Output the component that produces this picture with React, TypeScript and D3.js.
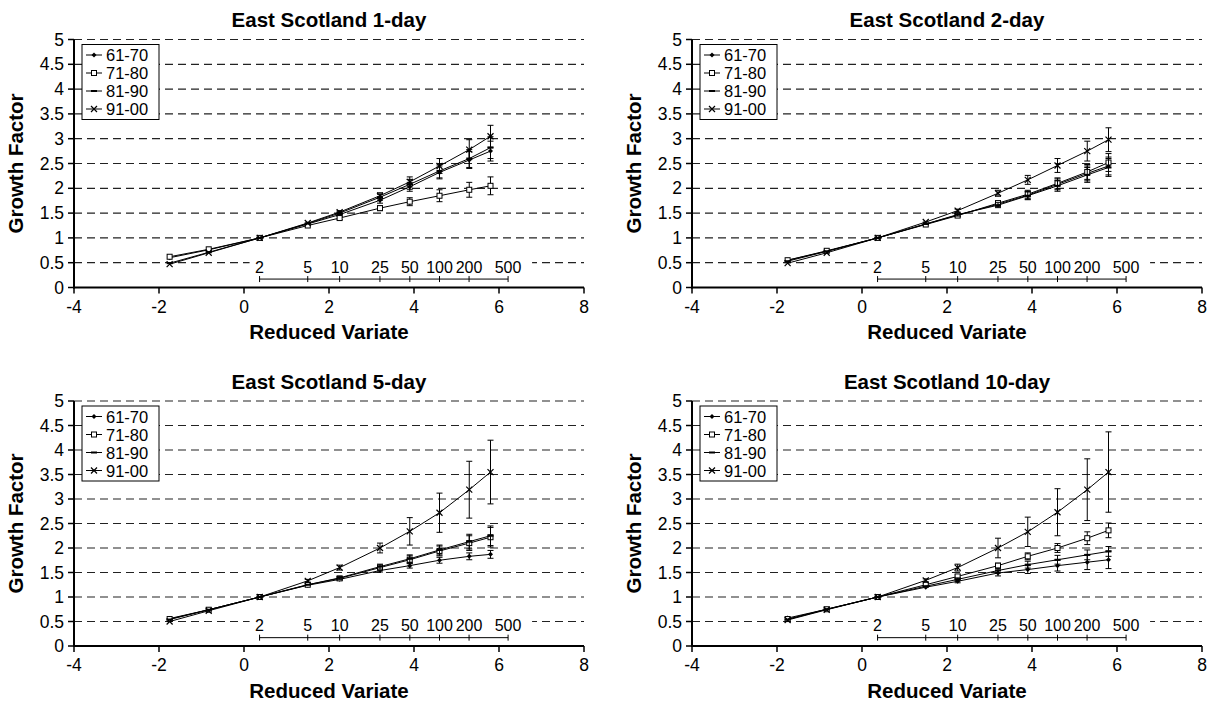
import React from 'react';
import * as d3 from 'd3';

// ---- data ----
const seriesNames = ['61-70', '71-80', '81-90', '91-00'];
const reducedVariate = [-1.75, -0.83, 0.37, 1.5, 2.25, 3.2, 3.9, 4.6, 5.3, 5.8];
const returnPeriods = [2, 5, 10, 25, 50, 100, 200, 500];
const xTickValues = [-4, -2, 0, 2, 4, 6, 8];
const yTickValues = [0, 0.5, 1, 1.5, 2, 2.5, 3, 3.5, 4, 4.5, 5];
const panelTitles = ['East Scotland 1-day', 'East Scotland 2-day', 'East Scotland 5-day', 'East Scotland 10-day'];

// growth factors, one row per decade (61-70, 71-80, 81-90, 91-00)
const oneDayValues = [
  [0.6, 0.76, 1.0, 1.28, 1.47, 1.76, 2.03, 2.32, 2.57, 2.75],
  [0.62, 0.77, 1.0, 1.25, 1.4, 1.6, 1.73, 1.85, 1.97, 2.05],
  [0.49, 0.71, 1.0, 1.29, 1.5, 1.82, 2.08, 2.35, 2.6, 2.82],
  [0.47, 0.7, 1.0, 1.3, 1.52, 1.85, 2.13, 2.45, 2.78, 3.05],
];
const oneDayErrors = [
  [0, 0, 0, 0.01, 0.03, 0.06, 0.09, 0.13, 0.17, 0.2],
  [0, 0, 0, 0.01, 0.03, 0.05, 0.08, 0.12, 0.15, 0.18],
  [0, 0, 0, 0.01, 0.03, 0.06, 0.1, 0.14, 0.18, 0.22],
  [0, 0, 0, 0.01, 0.03, 0.06, 0.1, 0.15, 0.2, 0.22],
];

const twoDayValues = [
  [0.55, 0.73, 1.0, 1.28, 1.46, 1.68, 1.86, 2.08, 2.3, 2.45],
  [0.55, 0.74, 1.0, 1.27, 1.45, 1.7, 1.88, 2.1, 2.33, 2.52],
  [0.53, 0.73, 1.0, 1.28, 1.47, 1.66, 1.85, 2.05, 2.27, 2.42],
  [0.49, 0.7, 1.0, 1.32, 1.55, 1.9, 2.17, 2.46, 2.75, 2.98],
];
const twoDayErrors = [
  [0, 0, 0, 0.01, 0.03, 0.05, 0.08, 0.11, 0.15, 0.18],
  [0, 0, 0, 0.01, 0.03, 0.05, 0.08, 0.11, 0.15, 0.18],
  [0, 0, 0, 0.01, 0.03, 0.05, 0.08, 0.11, 0.15, 0.18],
  [0, 0, 0, 0.01, 0.03, 0.06, 0.09, 0.14, 0.2, 0.24],
];

const fiveDayValues = [
  [0.56, 0.74, 1.0, 1.24, 1.36, 1.54, 1.64, 1.75, 1.83, 1.87],
  [0.55, 0.74, 1.0, 1.25, 1.38, 1.6, 1.76, 1.94, 2.1, 2.22],
  [0.54, 0.74, 1.0, 1.25, 1.39, 1.62, 1.78, 1.96, 2.13, 2.25],
  [0.5, 0.72, 1.0, 1.33, 1.6, 2.0, 2.34, 2.72, 3.19, 3.55],
];
const fiveDayErrors = [
  [0, 0, 0, 0.01, 0.02, 0.03, 0.05, 0.06, 0.07, 0.08],
  [0, 0, 0, 0.01, 0.03, 0.05, 0.08, 0.1, 0.15, 0.2],
  [0, 0, 0, 0.01, 0.03, 0.05, 0.08, 0.1, 0.15, 0.2],
  [0, 0, 0, 0.03, 0.05, 0.1, 0.28, 0.4, 0.58, 0.65],
];

const tenDayValues = [
  [0.57, 0.75, 1.0, 1.2, 1.32, 1.49, 1.56, 1.64, 1.71, 1.76],
  [0.55, 0.75, 1.0, 1.25, 1.42, 1.64, 1.83, 2.0, 2.2, 2.36],
  [0.54, 0.75, 1.0, 1.22, 1.36, 1.54, 1.66, 1.76, 1.86, 1.93],
  [0.53, 0.74, 1.0, 1.34, 1.6, 2.0, 2.33, 2.73, 3.19, 3.55],
];
const tenDayErrors = [
  [0, 0, 0, 0.01, 0.03, 0.06, 0.08, 0.11, 0.15, 0.18],
  [0, 0, 0, 0.01, 0.03, 0.05, 0.07, 0.09, 0.13, 0.15],
  [0, 0, 0, 0.01, 0.03, 0.05, 0.07, 0.09, 0.1, 0.1],
  [0, 0, 0, 0.03, 0.07, 0.2, 0.3, 0.48, 0.63, 0.82],
];

const FONT = "'Liberation Sans', Arial, Helvetica, sans-serif";
const PLOT_W = 510;

// gumbel reduced variate for a return period (position of the T axis)
const gumbel = (T: number) => -Math.log(-Math.log(1 - 1 / T));

function Marker({ kind, cx, cy }: { kind: number; cx: number; cy: number }) {
  if (kind === 0) {
    return <path d={`M${cx},${cy - 2.5}L${cx + 2.5},${cy}L${cx},${cy + 2.5}L${cx - 2.5},${cy}Z`} fill="#000" />;
  }
  if (kind === 1) {
    return <rect x={cx - 2.5} y={cy - 2.5} width={5} height={5} fill="#fff" stroke="#000" strokeWidth={1} />;
  }
  if (kind === 2) {
    return <line x1={cx - 3} x2={cx + 3} y1={cy} y2={cy} stroke="#000" strokeWidth={2} />;
  }
  return (
    <path d={`M${cx - 3},${cy - 3}L${cx + 3},${cy + 3}M${cx - 3},${cy + 3}L${cx + 3},${cy - 3}`} stroke="#000" strokeWidth={1.2} />
  );
}

type PanelProps = {
  title: string;
  values: number[][];
  errors: number[][];
  left: number;
  top: number;
  bottom: number;
};

function Panel({ title, values, errors, left, top, bottom }: PanelProps) {
  const x = d3.scaleLinear().domain([-4, 8]).range([left, left + PLOT_W]);
  const y = d3.scaleLinear().domain([0, 5]).range([bottom, top]);
  const line = d3
    .line<number>()
    .x((_, i) => x(reducedVariate[i]))
    .y((d) => y(d));

  const tLeft = x(gumbel(returnPeriods[0]));
  const tRight = x(gumbel(returnPeriods[returnPeriods.length - 1]));

  return (
    <g fontFamily={FONT}>
      <text x={x(2)} y={top - 20} textAnchor="middle" dominantBaseline="central" fontWeight="bold" fontSize={20.5}>
        {title}
      </text>

      {/* dashed grid */}
      {yTickValues.filter((v) => v > 0).map((v) => (
        <line key={v} x1={x(-4)} x2={x(8)} y1={y(v)} y2={y(v)} stroke="#222" strokeWidth={1.2} strokeDasharray="8,5" />
      ))}

      {/* return period box + axis */}
      <rect x={tLeft - 10} y={y(0.63)} width={tRight - tLeft + 34} height={y(0.3) - y(0.63)} fill="#fff" />
      {returnPeriods.map((T) => (
        <text key={T} x={x(gumbel(T))} y={y(0.3)} textAnchor="middle" fontSize={16}>
          {T}
        </text>
      ))}
      <line x1={tLeft} x2={tRight} y1={y(0.17)} y2={y(0.17)} stroke="#000" strokeWidth={1} />
      {returnPeriods.map((T) => (
        <line key={T} x1={x(gumbel(T))} x2={x(gumbel(T))} y1={y(0.17) - 3} y2={y(0.17) + 3} stroke="#000" strokeWidth={1} />
      ))}

      {/* series */}
      {values.map((vals, s) => (
        <g key={s}>
          <path d={line(vals) || ''} fill="none" stroke="#000" strokeWidth={1} />
          {vals.map((v, i) =>
            errors[s][i] > 0.015 ? (
              <g key={i} stroke="#000" strokeWidth={1}>
                <line x1={x(reducedVariate[i])} x2={x(reducedVariate[i])} y1={y(v - errors[s][i])} y2={y(v + errors[s][i])} />
                <line x1={x(reducedVariate[i]) - 3} x2={x(reducedVariate[i]) + 3} y1={y(v - errors[s][i])} y2={y(v - errors[s][i])} />
                <line x1={x(reducedVariate[i]) - 3} x2={x(reducedVariate[i]) + 3} y1={y(v + errors[s][i])} y2={y(v + errors[s][i])} />
              </g>
            ) : null
          )}
          {vals.map((v, i) => (
            <Marker key={i} kind={s} cx={x(reducedVariate[i])} cy={y(v)} />
          ))}
        </g>
      ))}

      {/* axes */}
      <line x1={x(-4)} x2={x(-4)} y1={y(0) + 1} y2={y(5)} stroke="#000" strokeWidth={2} />
      <line x1={x(-4) - 1} x2={x(8)} y1={y(0)} y2={y(0)} stroke="#000" strokeWidth={2} />
      {yTickValues.map((v) => (
        <g key={v}>
          <line x1={x(-4) - 6} x2={x(-4)} y1={y(v)} y2={y(v)} stroke="#000" strokeWidth={1.5} />
          <text x={x(-4) - 10} y={y(v)} textAnchor="end" dominantBaseline="central" fontSize={17.5}>
            {String(v)}
          </text>
        </g>
      ))}
      {xTickValues.map((v) => (
        <g key={v}>
          <line x1={x(v)} x2={x(v)} y1={y(0)} y2={y(0) + 6} stroke="#000" strokeWidth={1.5} />
          <text x={x(v)} y={y(0) + 19} textAnchor="middle" dominantBaseline="central" fontSize={17.5}>
            {String(v)}
          </text>
        </g>
      ))}
      <text x={x(2)} y={y(0) + 44} textAnchor="middle" dominantBaseline="central" fontWeight="bold" fontSize={20.5}>
        Reduced Variate
      </text>
      <text
        transform={`translate(${left - 59},${(top + bottom) / 2}) rotate(-90)`}
        textAnchor="middle"
        dominantBaseline="central"
        fontWeight="bold"
        fontSize={20.5}
      >
        Growth Factor
      </text>

      {/* legend */}
      <g transform={`translate(${left + 8},${top + 5})`}>
        <rect x={0} y={0} width={77} height={75} fill="#fff" stroke="#000" strokeWidth={1} />
        {seriesNames.map((name, i) => (
          <g key={name} transform={`translate(0,${10.5 + i * 18})`}>
            <line x1={4} x2={20} y1={0} y2={0} stroke="#000" strokeWidth={1} />
            <Marker kind={i} cx={12} cy={0} />
            <text x={24} y={0} dominantBaseline="central" fontSize={16.5}>
              {name}
            </text>
          </g>
        ))}
      </g>
    </g>
  );
}

export default function App() {
  const panelValues = [oneDayValues, twoDayValues, fiveDayValues, tenDayValues];
  const panelErrors = [oneDayErrors, twoDayErrors, fiveDayErrors, tenDayErrors];
  const lefts = [74, 692];
  const rows = [
    { top: 39.5, bottom: 287.5 },
    { top: 401, bottom: 646 },
  ];
  return (
    <svg width={1218} height={703} style={{ position: 'absolute', left: 0, top: 0, background: '#fff' }}>
      <rect width={1218} height={703} fill="#fff" />
      {panelTitles.map((t, i) => (
        <Panel
          key={t}
          title={t}
          values={panelValues[i]}
          errors={panelErrors[i]}
          left={lefts[i % 2]}
          top={rows[Math.floor(i / 2)].top}
          bottom={rows[Math.floor(i / 2)].bottom}
        />
      ))}
    </svg>
  );
}
